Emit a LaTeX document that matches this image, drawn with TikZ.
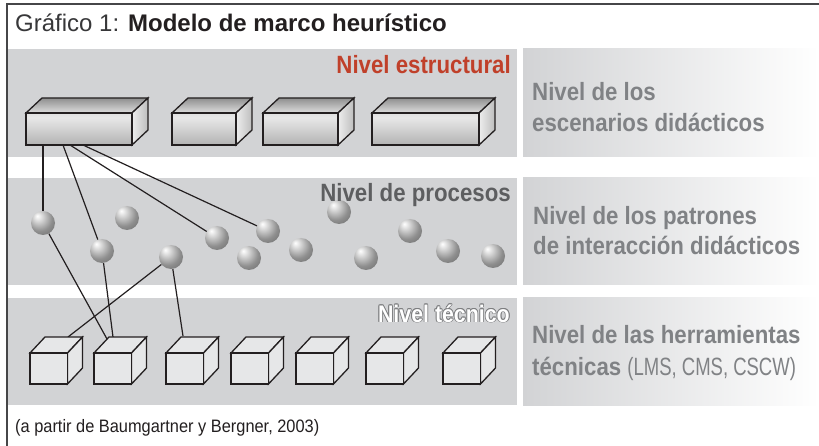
\documentclass[tikz,border=0pt]{standalone}
\usepackage{fontspec}
\setmainfont{Liberation Sans}
\newfontfamily\condb[FakeStretch=0.89]{Liberation Sans}
\newfontfamily\condr[FakeStretch=0.74]{Liberation Sans}
\newfontfamily\condf[FakeStretch=0.91]{Liberation Sans}
\definecolor{bandgray}{RGB}{210,211,213}
\definecolor{framegray}{RGB}{70,70,72}
\definecolor{inkc}{RGB}{35,31,32}
\definecolor{titlegray}{RGB}{55,55,57}
\definecolor{redlab}{RGB}{192,64,42}
\definecolor{proclab}{RGB}{93,94,96}
\definecolor{rightlab}{RGB}{128,130,133}
\definecolor{olgray}{RGB}{125,126,128}
\definecolor{techgray}{RGB}{230,231,232}
\pgfdeclareradialshading{sphshade}{\pgfpoint{-12bp}{15bp}}{%
  color(0bp)=(white); color(5bp)=(black!8); color(26bp)=(black!44);
  color(50bp)=(black!64); color(70bp)=(black!74)}
\pgfdeclareverticalshading{frontsh}{100bp}{%
  color(0bp)=(black!42); color(68bp)=(black!9); color(100bp)=(black!24)}
\newcommand\olt[1]{%
  \makebox[0pt][l]{\color{olgray}\hspace*{-.8pt}#1}%
  \makebox[0pt][l]{\color{olgray}\hspace*{.8pt}#1}%
  \makebox[0pt][l]{\color{olgray}\raisebox{.8pt}{#1}}%
  \makebox[0pt][l]{\color{olgray}\raisebox{-.8pt}{#1}}%
  \makebox[0pt][l]{\color{olgray}\hspace*{-.6pt}\raisebox{.6pt}{#1}}%
  \makebox[0pt][l]{\color{olgray}\hspace*{.6pt}\raisebox{.6pt}{#1}}%
  \makebox[0pt][l]{\color{olgray}\hspace*{-.6pt}\raisebox{-.6pt}{#1}}%
  \makebox[0pt][l]{\color{olgray}\hspace*{.6pt}\raisebox{-.6pt}{#1}}%
  {\color{white}#1}}
\tikzset{
  edge/.style={draw=inkc, line width=1.3pt, line join=miter},
  conn/.style={draw=inkc, line width=1.2pt},
  strfront/.style={rectangle, edge, inner sep=0pt, outer sep=0pt, shading=frontsh},
  strtop/.style={edge, top color=black!44, bottom color=black!13},
  strside/.style={edge, left color=black!7, right color=black!26},
  techfront/.style={rectangle, edge, inner sep=0pt, outer sep=0pt, fill=techgray},
  techface/.style={edge, fill=techgray},
  sphere/.style={circle, inner sep=0pt, minimum size=24pt, shading=sphshade},
  lvl/.style={font=\condb\bfseries\fontsize{25}{28}\selectfont, inner sep=0pt},
  rlab/.style={font=\condb\bfseries\fontsize{25}{28}\selectfont, text=rightlab, inner sep=0pt, anchor=base west},
}
\newcommand\StrBox[5]{%
  \path[strtop] (#2,#3) -- (#2+16,#3-15) -- (#4+16,#3-15) -- (#4,#3) -- cycle;
  \path[strside] (#4,#3) -- (#4+16,#3-15) -- (#4+16,#5-15) -- (#4,#5) -- cycle;
  \node[strfront, minimum width={#4-#2}, minimum height={#5-#3}, anchor=north west] (#1) at (#2,#3) {};
}
\newcommand\TechBox[2]{%
  \path[techface] (#2,353) -- (#2+15,337) -- (#2+52.5,337) -- (#2+37.5,353) -- cycle;
  \path[techface] (#2+37.5,353) -- (#2+52.5,337) -- (#2+52.5,368) -- (#2+37.5,384) -- cycle;
  \node[techfront, minimum width=37.5, minimum height=31, anchor=north west] (#1) at (#2,353) {};
}
\begin{document}
\begin{tikzpicture}[x=1pt,y=-1pt]
\useasboundingbox (0,0) rectangle (819,446);
\fill[white] (0,0) rectangle (819,446);
% bands
\fill[bandgray] (8,49) rectangle (517,157);
\fill[bandgray] (8,178) rectangle (517,285);
\fill[bandgray] (8,298) rectangle (517,405);
\shade[left color=bandgray, right color=white] (523,49) rectangle (819,157);
\shade[left color=bandgray, right color=white] (523,178) rectangle (819,285);
\shade[left color=bandgray, right color=white] (523,298) rectangle (819,405);
% frame
\draw[framegray, line width=1.6pt] (7,446) -- (7,3.8) -- (819,3.8);
% title
\node[anchor=base west, inner sep=0pt, font=\fontsize{24}{28}\selectfont, text=titlegray] (title) at (15,32)
  {Gráfico 1: \textcolor{inkc}{\bfseries Modelo de marco heurístico}};
% attachment points
\coordinate (p1) at (43,145);
\coordinate (p2) at (63,145);
\coordinate (p3) at (70,145);
\coordinate (p4) at (83,145);
\coordinate (q1) at (68,337);
\coordinate (q2) at (107,339);
\coordinate (q3) at (113,337);
\coordinate (q4) at (183,336);
% spheres
\node[sphere] (s1) at (43,223) {};
\node[sphere] (s2) at (127,218) {};
\node[sphere] (s3) at (102,251) {};
\node[sphere] (s4) at (171,257) {};
\node[sphere] (s5) at (217,238) {};
\node[sphere] (s6) at (268,231) {};
\node[sphere] (s7) at (249,258) {};
\node[sphere] (s8) at (301,250) {};
\node[sphere] (s9) at (339,212) {};
\node[sphere] (s10) at (366,258) {};
\node[sphere] (s11) at (410,231) {};
\node[sphere] (s12) at (448,251) {};
\node[sphere] (s13) at (493,256) {};
% connectors
\draw[conn] (p1) -- (s1);
\draw[conn] (p2) -- (s3);
\draw[conn] (p3) -- (s5);
\draw[conn] (p4) -- (s6);
\draw[conn] (s1) -- (q2);
\draw[conn] (s3) -- (q3);
\draw[conn] (s4) -- (q1);
\draw[conn] (s4) -- (q4);
% structural boxes
\StrBox{e1}{26}{113}{132}{145}
\StrBox{e2}{172}{113}{236}{145}
\StrBox{e3}{263}{113}{338}{145}
\StrBox{e4}{372}{113}{479}{145}
% technical boxes
\TechBox{t1}{30}
\TechBox{t2}{94}
\TechBox{t3}{166}
\TechBox{t4}{231}
\TechBox{t5}{296}
\TechBox{t6}{366}
\TechBox{t7}{443}
% level labels
\node[lvl, text=redlab, anchor=base east] (lv1) at (511,74) {Nivel estructural};
\node[lvl, text=proclab, anchor=base east] (lv2) at (511,202) {Nivel de procesos};
\node[lvl, anchor=base east, font=\condb\bfseries\fontsize{24}{28}\selectfont] (lv3) at (510,322) {\olt{Nivel técnico}};
% right labels
\node[rlab] (r1a) at (532,101) {Nivel de los};
\node[rlab] (r1b) at (532,132) {escenarios didácticos};
\node[rlab] (r2a) at (533,225) {Nivel de los patrones};
\node[rlab] (r2b) at (533,255) {de interacción didácticos};
\node[rlab] (r3a) at (532,343) {Nivel de las herramientas};
\node[rlab] (r3b) at (532,375) {técnicas {\condr\mdseries(LMS, CMS, CSCW)}};
% footnote
\node[anchor=base west, inner sep=0pt, font=\condf\fontsize{18}{20}\selectfont, text=inkc] (foot) at (15,432)
  {(a partir de Baumgartner y Bergner, 2003)};
\end{tikzpicture}
\end{document}
